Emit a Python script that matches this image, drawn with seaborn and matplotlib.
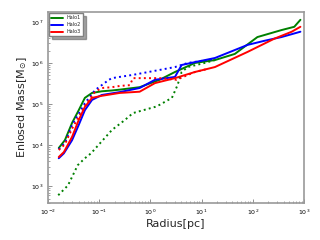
import numpy as np
import pandas as pd
import matplotlib
matplotlib.use("Agg")
import matplotlib.pyplot as plt
import seaborn as sns

# values (log10 radius [pc], log10 mass [Msun])
halo1_logr = [-1.79, -1.67, -1.53, -1.40, -1.28, -1.14, -0.95, -0.75, -0.60, -0.21, 0.18, 0.48, 0.87, 1.26, 1.65, 2.09, 2.56, 2.81, 2.93]
halo1_logm = [3.93, 4.12, 4.54, 4.85, 5.15, 5.27, 5.31, 5.33, 5.35, 5.41, 5.59, 5.78, 6.00, 6.07, 6.22, 6.63, 6.80, 6.88, 7.05]

halo2_logr = [-1.79, -1.69, -1.53, -1.40, -1.28, -1.14, -0.95, -0.75, -0.60, -0.21, 0.09, 0.48, 0.61, 0.87, 1.26, 1.90, 2.23, 2.56, 2.93]
halo2_logm = [3.68, 3.80, 4.12, 4.49, 4.85, 5.10, 5.22, 5.26, 5.29, 5.39, 5.59, 5.66, 5.95, 6.02, 6.12, 6.44, 6.54, 6.63, 6.76]

halo3_logr = [-1.79, -1.69, -1.53, -1.40, -1.28, -1.14, -0.95, -0.75, -0.60, -0.21, 0.09, 0.48, 0.87, 1.26, 1.90, 2.42, 2.76, 2.93]
halo3_logm = [3.71, 3.83, 4.20, 4.61, 4.93, 5.15, 5.20, 5.24, 5.27, 5.30, 5.51, 5.63, 5.78, 5.90, 6.27, 6.59, 6.76, 6.88]

# dotted (second set) profiles
halo1b_logr = [-1.80, -1.61, -1.42, -1.28, -1.16, -0.75, -0.50, -0.34, 0.09, 0.18, 0.42, 0.53, 0.61, 0.73, 1.06, 1.26]
halo1b_logm = [2.78, 3.02, 3.51, 3.68, 3.80, 4.37, 4.61, 4.78, 4.93, 4.98, 5.15, 5.46, 5.78, 5.90, 6.00, 6.07]

halo2b_logr = [-1.79, -1.67, -1.53, -1.28, -1.08, -0.95, -0.81, -0.75, -0.60, -0.34, 0.18, 0.48, 0.73, 1.26]
halo2b_logm = [3.90, 4.05, 4.49, 5.02, 5.34, 5.46, 5.59, 5.63, 5.66, 5.71, 5.83, 5.90, 6.00, 6.10]

halo3b_logr = [-1.79, -1.67, -1.53, -1.28, -1.08, -0.95, -0.75, -0.60, -0.40, -0.34, 0.18, 0.51, 0.87, 1.10]
halo3b_logm = [3.88, 4.02, 4.40, 4.95, 5.30, 5.39, 5.41, 5.44, 5.46, 5.63, 5.63, 5.59, 5.78, 5.85]

sns.set_style("white")
plt.rcParams['font.family'] = ['DejaVu Sans']

fig = plt.figure(figsize=(3.2, 2.4), dpi=100)
ax = fig.add_axes([0.15, 0.154, 0.80, 0.796])

series = [
    ("Halo1", halo1_logr, halo1_logm, "green", "-"),
    ("Halo2", halo2_logr, halo2_logm, "blue", "-"),
    ("Halo3", halo3_logr, halo3_logm, "red", "-"),
    (None, halo1b_logr, halo1b_logm, "green", ":"),
    (None, halo2b_logr, halo2b_logm, "blue", ":"),
    (None, halo3b_logr, halo3b_logm, "red", ":"),
]

for label, lr, lm, color, ls in series:
    df = pd.DataFrame({"r": 10 ** np.array(lr), "m": 10 ** np.array(lm)})
    sns.lineplot(data=df, x="r", y="m", ax=ax, color=color, linestyle=ls,
                 linewidth=1.4, sort=False, label=label, legend=False)

ax.set_xscale('log')
ax.set_yscale('log')
ax.set_xlim(1e-2, 1e3)
ax.set_ylim(10 ** 2.59, 10 ** 7.24)

ax.set_xlabel('Radius[pc]', fontsize=8, labelpad=1)
ax.set_ylabel(r'Enlosed Mass[M$_{\odot}$]', fontsize=8, labelpad=1)

ax.tick_params(which='both', direction='in', colors='gray', labelcolor='black',
               labelsize=4.5, left=True, bottom=True, top=False, right=False)
ax.tick_params(which='major', length=3, width=0.6)
ax.tick_params(which='minor', length=1.5, width=0.5)
for sp in ax.spines.values():
    sp.set_color('#999999')
    sp.set_linewidth(1.2)

handles = [plt.Line2D([], [], color=c, lw=1.4) for c in ["green", "blue", "red"]]
ax.legend(handles, ["Halo1", "Halo2", "Halo3"], loc='upper left', fontsize=3.5,
          shadow=True, fancybox=False, frameon=True, edgecolor='gray',
          handlelength=2.4, borderaxespad=0.3, labelspacing=0.4)

fig.savefig("out.png", dpi=100)
